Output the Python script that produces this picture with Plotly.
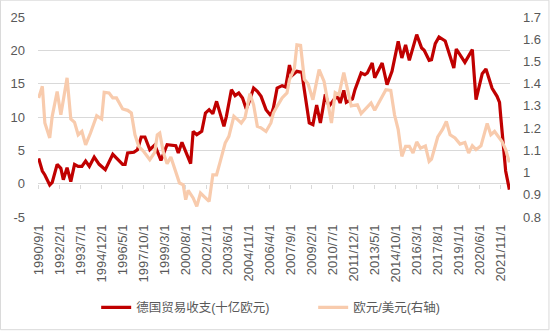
import plotly.graph_objects as go
import pandas as pd

# ---------------- data ----------------
trade_dates = [
    "1990-09", "1990-12", "1991-02", "1991-06", "1991-08", "1991-12", "1992-03", "1992-05",
    "1992-08", "1992-11", "1993-02", "1993-05", "1993-08", "1993-11", "1994-02", "1994-06",
    "1994-10", "1995-03", "1995-09", "1995-12", "1996-05", "1996-07", "1996-09", "1997-02",
    "1997-05", "1997-08", "1997-11", "1998-03", "1998-07", "1998-12", "1999-05", "1999-12",
    "2000-02", "2000-05", "2000-12", "2001-02", "2001-05", "2001-09", "2001-12", "2002-03",
    "2002-06", "2002-09", "2003-03", "2003-05", "2003-09", "2003-12", "2004-03", "2004-06",
    "2004-09", "2004-11", "2005-03", "2005-06", "2005-09", "2006-01", "2006-05", "2006-07",
    "2006-10", "2007-02", "2007-05", "2007-08", "2007-10", "2008-02", "2008-06", "2008-08",
    "2008-12", "2009-03", "2009-06", "2009-09", "2010-01", "2010-04", "2010-08", "2010-11",
    "2011-01", "2011-04", "2011-06", "2011-11", "2012-01", "2012-06", "2012-09", "2012-11",
    "2013-03", "2013-05", "2013-08", "2013-11", "2014-03", "2014-07", "2014-12", "2015-03",
    "2015-06", "2015-09", "2016-03", "2016-07", "2016-09", "2017-01", "2017-03", "2017-06",
    "2017-09", "2018-02", "2018-09", "2018-11", "2019-06", "2019-12", "2020-03", "2020-08",
    "2020-11", "2021-04", "2021-08", "2021-10", "2021-11", "2022-01", "2022-03", "2022-06",
]
trade_values = [
    3.8, 1.9, 1.3, -0.2, 0.2, 2.9, 2.3, 0.6,
    2.4, 0.3, 2.9, 2.6, 2.6, 3.4, 2.6, 4.0,
    2.9, 2.1, 4.4, 3.9, 2.9, 2.9, 4.6, 4.7,
    5.1, 7.0, 7.0, 5.1, 5.8, 3.5, 5.85, 5.7,
    4.6, 6.2, 3.0, 7.85, 7.35, 7.85, 10.6, 11.1,
    10.5, 12.35, 8.6, 10.1, 14.1, 13.2, 13.6, 12.85,
    11.2, 12.1, 14.35, 13.85, 13.1, 11.1, 10.2, 11.35,
    14.35, 14.7, 14.5, 17.8, 16.2, 16.85, 16.7, 14.1,
    9.1, 8.85, 11.8, 9.1, 13.4, 11.6, 12.6, 13.1,
    12.1, 14.0, 12.2, 12.7, 14.1, 16.6, 16.35, 16.6,
    18.1, 15.9, 17.1, 18.1, 14.85, 16.85, 21.35, 18.85,
    20.8, 18.5, 22.35, 20.35, 20.0, 18.5, 18.6, 21.0,
    22.0, 21.4, 17.35, 20.2, 18.2, 20.1, 12.6, 16.5,
    17.2, 14.3, 13.1, 12.2, 10.0, 5.8, 1.9, -0.9,
]

fx_dates = [
    "1990-09", "1990-12", "1991-02", "1991-06", "1991-08", "1991-12", "1992-03", "1992-06",
    "1992-08", "1992-11", "1993-02", "1993-05", "1993-08", "1993-11", "1994-03", "1994-08",
    "1994-12", "1995-02", "1995-06", "1995-09", "1995-12", "1996-05", "1996-09", "1996-12",
    "1997-03", "1997-06", "1997-10", "1998-03", "1998-07", "1998-09", "1998-11", "1999-02",
    "1999-05", "1999-08", "1999-12", "2000-03", "2000-06", "2000-08", "2000-10", "2001-02",
    "2001-05", "2001-08", "2001-12", "2002-03", "2002-06", "2002-09", "2002-12", "2003-04",
    "2003-07", "2003-11", "2004-02", "2004-05", "2004-08", "2004-12", "2005-03", "2005-06",
    "2005-09", "2006-01", "2006-05", "2006-07", "2006-10", "2007-02", "2007-06", "2007-08",
    "2007-12", "2008-02", "2008-05", "2008-08", "2008-11", "2009-03", "2009-08", "2009-12",
    "2010-06", "2010-09", "2010-12", "2011-04", "2011-10", "2012-03", "2012-06", "2013-02",
    "2013-05", "2013-10", "2014-02", "2014-06", "2014-09", "2014-12", "2015-03", "2015-06",
    "2015-09", "2015-12", "2016-03", "2016-06", "2016-10", "2017-01", "2017-03", "2017-08",
    "2017-12", "2018-03", "2018-06", "2018-10", "2019-02", "2019-06", "2019-09", "2019-12",
    "2020-03", "2020-07", "2020-12", "2021-03", "2021-06", "2021-12", "2022-03", "2022-06",
]
fx_values = [
    1.336, 1.388, 1.223, 1.156, 1.253, 1.365, 1.260, 1.373,
    1.426, 1.241, 1.226, 1.170, 1.185, 1.125, 1.178, 1.256,
    1.241, 1.361, 1.358, 1.336, 1.336, 1.286, 1.280, 1.268,
    1.170, 1.118, 1.095, 1.058, 1.091, 1.170, 1.178, 1.088,
    1.040, 1.070, 0.998, 0.953, 0.945, 0.878, 0.920, 0.886,
    0.848, 0.908, 0.886, 0.870, 0.990, 0.990, 1.050, 1.133,
    1.163, 1.253, 1.238, 1.223, 1.246, 1.355, 1.305, 1.208,
    1.201, 1.185, 1.223, 1.268, 1.298, 1.336, 1.358, 1.418,
    1.470, 1.575, 1.572, 1.420, 1.400, 1.328, 1.463, 1.410,
    1.223, 1.360, 1.350, 1.450, 1.300, 1.305, 1.265, 1.313,
    1.280, 1.336, 1.373, 1.370, 1.260, 1.193, 1.073, 1.118,
    1.118, 1.088, 1.138, 1.110, 1.120, 1.050, 1.060, 1.160,
    1.195, 1.230, 1.170, 1.156, 1.128, 1.135, 1.088, 1.121,
    1.103, 1.120, 1.221, 1.170, 1.185, 1.140, 1.103, 1.046,
]

x_tick_labels = [
    "1990/9/1", "1992/2/1", "1993/7/1", "1994/12/1", "1996/5/1", "1997/10/1",
    "1999/3/1", "2000/8/1", "2002/1/1", "2003/6/1", "2004/11/1", "2006/4/1",
    "2007/9/1", "2009/2/1", "2010/7/1", "2011/12/1", "2013/5/1", "2014/10/1",
    "2016/3/1", "2017/8/1", "2019/1/1", "2020/6/1", "2021/11/1",
]
left_ticks = [-5, 0, 5, 10, 15, 20, 25]
right_ticks = [0.8, 0.9, 1.0, 1.1, 1.2, 1.3, 1.4, 1.5, 1.6, 1.7]

name_trade = "德国贸易收支(十亿欧元)"
name_fx = "欧元/美元(右轴)"

# ---------------- figure ----------------
FONT = "Liberation Sans, Noto Sans CJK SC, sans-serif"
GRAY = "#595959"
GRID = "#d9d9d9"

label_dates = [pd.to_datetime(s, format="%Y/%m/%d") for s in x_tick_labels]
boundary_dates = [d - pd.Timedelta(days=15) for d in label_dates]
x_range = ["1990-08-16", "2022-06-16"]

fig = go.Figure()
fig.add_trace(go.Scatter(
    x=pd.to_datetime(trade_dates), y=trade_values, name=name_trade, mode="lines",
    line=dict(color="#C00000", width=3.2), yaxis="y", xaxis="x",
))
fig.add_trace(go.Scatter(
    x=pd.to_datetime(fx_dates), y=fx_values, name=name_fx, mode="lines",
    line=dict(color="#F8CBAD", width=3.2), yaxis="y2", xaxis="x",
))

fig.update_layout(
    width=550, height=331,
    margin=dict(l=38, r=40, t=17, b=114, autoexpand=False),
    paper_bgcolor="white", plot_bgcolor="white",
    font=dict(family=FONT, size=13, color=GRAY),
    showlegend=True,
    legend=dict(orientation="h", x=0.583, xanchor="center",
                yref="container", y=0.07, yanchor="middle",
                font=dict(size=12.5, color=GRAY), itemwidth=30,
                entrywidth=172, entrywidthmode="pixels"),
    xaxis=dict(
        type="date", range=x_range, tickvals=label_dates, ticktext=x_tick_labels,
        tickangle=-90, ticks="", showgrid=False, zeroline=False, showline=False,
        tickfont=dict(size=13, color=GRAY), anchor="y", ticklabelstandoff=4,
        automargin=False,
    ),
    xaxis2=dict(
        type="date", range=x_range, overlaying="x", anchor="free", position=0.1665,
        tickvals=boundary_dates, showticklabels=False, ticks="outside", ticklen=4,
        tickcolor=GRID, showgrid=False, zeroline=False, showline=False,
    ),
    yaxis=dict(
        range=[-5, 25], tickvals=left_ticks, ticktext=[str(v) for v in left_ticks],
        showgrid=True, gridcolor=GRID, gridwidth=1, zeroline=False, ticks="",
        ticklabelstandoff=12, tickfont=dict(size=13, color=GRAY), automargin=False,
    ),
    yaxis2=dict(
        range=[0.8, 1.7], tickvals=right_ticks, ticktext=[f"{v:g}" for v in right_ticks],
        overlaying="y", side="right", showgrid=False, zeroline=False, ticks="",
        ticklabelstandoff=12, tickfont=dict(size=13, color=GRAY), automargin=False,
    ),
    shapes=[dict(type="rect", xref="paper", yref="paper",
                 x0=-0.0795, x1=1.0825, y0=-0.5635, y1=1.084,
                 line=dict(color=GRID, width=1), fillcolor="rgba(0,0,0,0)", layer="below")],
)
# helper trace so the zero-line tick axis is drawn
fig.add_trace(go.Scatter(x=[pd.to_datetime(x_range[0])], y=[None], xaxis="x2", yaxis="y",
                         showlegend=False, hoverinfo="skip"))

fig.write_html("out.html")
